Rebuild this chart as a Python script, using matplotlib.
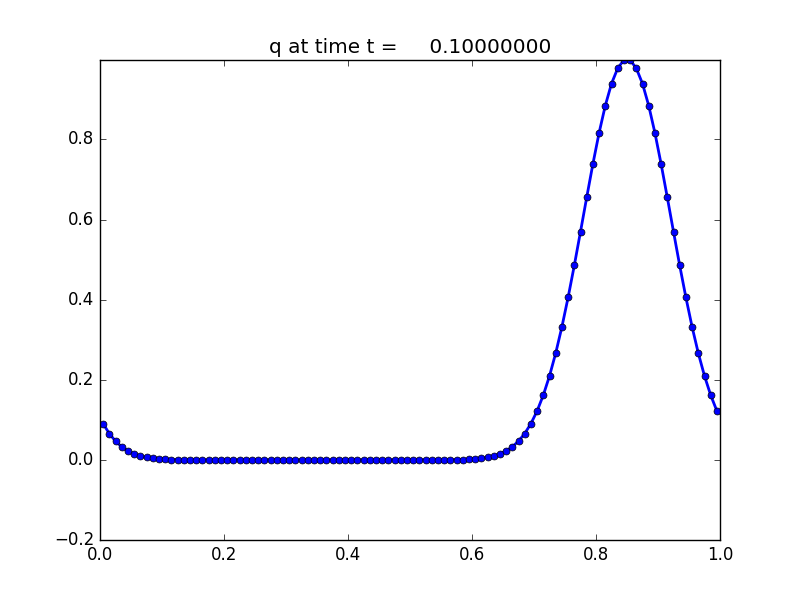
import matplotlib
matplotlib.use("Agg")
import matplotlib.pyplot as plt
import numpy as np

plt.style.use("classic")

x = [0.005 + 0.01 * i for i in range(100)]
q_left = [0.0905, 0.0657, 0.0468, 0.0326, 0.0223, 0.0150, 0.0098, 0.0063,
          0.0040, 0.0025, 0.0015, 0.0009, 0.0005, 0.0003]
q_mid = [0.0] * 42
q_right = [0.0003, 0.0005, 0.0009, 0.0015, 0.0025, 0.0040, 0.0063, 0.0098,
           0.0150, 0.0223, 0.0326, 0.0468, 0.0657, 0.0905,
           0.1221, 0.1616, 0.2096, 0.2665, 0.3321, 0.4056, 0.4855, 0.5698,
           0.6554, 0.7390, 0.8167, 0.8847, 0.9394, 0.9778, 0.9985,
           0.9985, 0.9778, 0.9394, 0.8847, 0.8167, 0.7390, 0.6554, 0.5698,
           0.4855, 0.4056, 0.3321, 0.2665, 0.2096, 0.1616, 0.1221]
q = q_left + q_mid + q_right

fig = plt.figure(figsize=(8, 6), dpi=100)
ax = fig.add_subplot(111)
ax.plot(x, q, "b-o", linewidth=2, markersize=5)
ax.set_xlim(0, 1)
ax.set_ylim(-0.2, max(q))
ax.set_title("q at time t =     0.10000000")
fig.savefig("out.png", dpi=100)
